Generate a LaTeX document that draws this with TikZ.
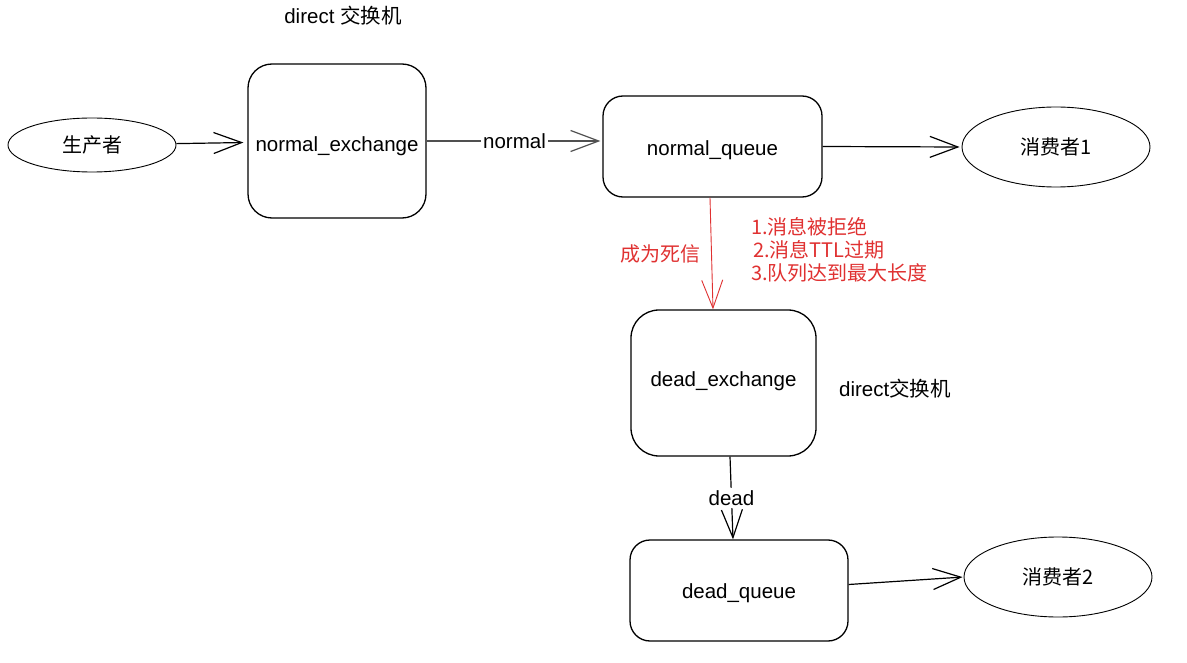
\documentclass[tikz,border=0pt]{standalone}
\usepackage{fontspec}
\setmainfont{Liberation Sans}
\newfontfamily\cjk{Noto Sans CJK SC}
\usetikzlibrary{arrows.meta,shapes.geometric,calc}
\definecolor{exred}{RGB}{224,49,49}
\definecolor{lgray}{RGB}{80,80,80}
\newcommand{\shiftdown}[2]{\raisebox{#1}[\height][\depth]{#2}}
\begin{document}
\begin{tikzpicture}[x=1pt,y=-1pt,
  box/.style={draw, line width=1.3pt, rounded corners=24pt, inner sep=0pt, font=\fontsize{20.5}{24}\selectfont},
  oval/.style={draw, ellipse, line width=0.9pt, inner sep=0pt, font=\cjk\fontsize{20}{24}\selectfont},
  conn/.style={line width=1.2pt, -{Straight Barb[length=28pt,width=21pt]}},
  lbl/.style={font=\fontsize{20.5}{24}\selectfont, inner sep=2pt},
  redlbl/.style={font=\cjk\fontsize{20}{23}\selectfont, text=exred, inner sep=0pt},
]
\path[use as bounding box, fill=white] (0,0) rectangle (1187,663);

% nodes
\node[oval, minimum width=168pt, minimum height=54pt] (prod) at (92,145) {生产者};
\node[box, minimum width=178pt, minimum height=154pt] (ne) at (337,141) {\shiftdown{-5pt}{normal\_exchange}};
\node[box, rounded corners=20pt, minimum width=219pt, minimum height=101pt] (nq) at (712.5,146.5) {\shiftdown{-4pt}{normal\_queue}};
\node[oval, minimum width=188pt, minimum height=80pt] (c1) at (1056,147) {消费者1};
\node[box, rounded corners=28pt, minimum width=185pt, minimum height=146pt] (dx) at (723.5,383) {\shiftdown{2pt}{dead\_exchange}};
\node[box, rounded corners=20pt, minimum width=218pt, minimum height=101pt] (dq) at (739,590.5) {\shiftdown{-3pt}{dead\_queue}};
\node[oval, minimum width=188pt, minimum height=80pt] (c2) at (1058,577) {消费者2};

% free labels
\node[lbl] (t1) at (343,16) {direct {\cjk 交换机}};
\node[lbl] (t2) at (895,389) {direct{\cjk 交换机}};
\node[redlbl, anchor=west, align=left] (reasons) at (751,250) {1.消息被拒绝\\\hspace{2pt}2.消息TTL过期\\3.队列达到最大长度};

% connectors
\draw[conn, shorten >=4pt] (prod) -- (ne);
\draw[conn, lgray, shorten >=2pt] (ne.east) -- node[lbl, fill=white, text=black] {normal} (ne.east -| nq.west);
\draw[conn, shorten >=2pt] (nq.east) -- (c1.west);
\draw[conn, exred, line width=0.9pt] ([xshift=-2.5pt]nq.south) -- node[redlbl, midway, left=11pt] {成为死信} ([xshift=-10.5pt]dx.north);
\draw[conn] ([xshift=6.5pt]dx.south) -- node[lbl, fill=white] {dead} ([xshift=-6pt]dq.north);
\draw[conn, shorten >=1pt] ([yshift=6pt]dq.east) -- (c2.west);
\end{tikzpicture}
\end{document}
